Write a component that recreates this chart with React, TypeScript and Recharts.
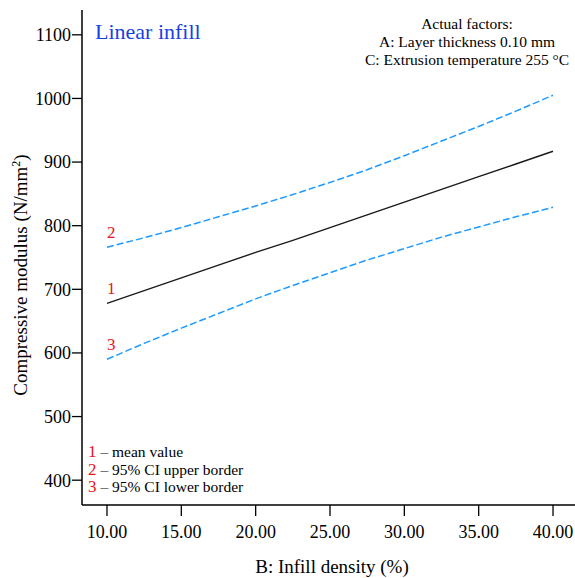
import React from "react";
import { LineChart, Line, XAxis, YAxis, LabelList } from "recharts";

const infillDensity = [10, 12.5, 15, 17.5, 20, 22.5, 25, 27.5, 30, 32.5, 35, 37.5, 40];
const meanValue = [678, 698, 718, 738, 758, 777, 797, 817, 837, 857, 877, 897, 917];
const upperCI = [766, 781, 797, 814, 831, 849, 868, 888, 910, 933, 956, 980, 1005];
const lowerCI = [590, 615, 639, 662, 685, 706, 726, 746, 764, 782, 798, 814, 829];
const xTicks = [10, 15, 20, 25, 30, 35, 40];
const yTicks = [400, 500, 600, 700, 800, 900, 1000, 1100];
const factorLines = ["Actual factors:", "A: Layer thickness 0.10 mm", "C: Extrusion temperature 255 °C"];
const legendItems = [
  { num: "1", text: "mean value" },
  { num: "2", text: "95% CI upper border" },
  { num: "3", text: "95% CI lower border" },
];

const data = infillDensity.map((x, i) => ({
  x,
  mean: meanValue[i],
  upper: upperCI[i],
  lower: lowerCI[i],
}));

const FONT = "'Liberation Serif', 'Times New Roman', serif";
const BLUE = "#1E9BFF";
const RED = "#E8141B";

const makeLabel = (num: string) => (props: any) => {
  const { x, y, index } = props;
  if (index !== 0) return null;
  return (
    <text x={x} y={y - 9} fill={RED} fontSize={17} fontFamily={FONT}>
      {num}
    </text>
  );
};

const fmtX = (v: number) => v.toFixed(2);

export default function App() {
  return (
    <div
      style={{
        position: "absolute",
        left: 0,
        top: 0,
        width: 575,
        height: 578,
        overflow: "hidden",
        background: "#fff",
      }}
    >
      <LineChart
        width={600}
        height={578}
        data={data}
        margin={{ top: 10, right: 22, bottom: 0, left: 0 }}
      >
        <XAxis
          xAxisId="top"
          orientation="top"
          dataKey="x"
          type="number"
          domain={[8.32, 41.68]}
          height={0}
          tick={false}
          tickLine={false}
          axisLine={{ stroke: "#707070", strokeWidth: 2 }}
        />
        <XAxis
          dataKey="x"
          type="number"
          domain={[8.32, 41.68]}
          ticks={xTicks}
          tickFormatter={fmtX}
          height={73}
          tickSize={11}
          tickMargin={9}
          axisLine={{ stroke: "#000", strokeWidth: 1.5 }}
          tickLine={{ stroke: "#000", strokeWidth: 1.3 }}
          tick={{ fill: "#000", fontSize: 18, fontFamily: FONT }}
          allowDataOverflow
        />
        <YAxis
          type="number"
          domain={[361, 1139]}
          ticks={yTicks}
          width={82}
          tickSize={10}
          tickMargin={1}
          axisLine={{ stroke: "#000", strokeWidth: 1.5 }}
          tickLine={{ stroke: "#000", strokeWidth: 1.3 }}
          tick={{ fill: "#000", fontSize: 18, fontFamily: FONT }}
          allowDataOverflow
        />
        <Line
          xAxisId={0}
          dataKey="upper"
          stroke={BLUE}
          strokeWidth={1.5}
          strokeDasharray="7 3"
          dot={false}
          isAnimationActive={false}
        >
          <LabelList dataKey="upper" content={makeLabel("2")} />
        </Line>
        <Line
          xAxisId={0}
          dataKey="mean"
          stroke="#1a1a1a"
          strokeWidth={1.4}
          dot={false}
          isAnimationActive={false}
        >
          <LabelList dataKey="mean" content={makeLabel("1")} />
        </Line>
        <Line
          xAxisId={0}
          dataKey="lower"
          stroke={BLUE}
          strokeWidth={1.5}
          strokeDasharray="7 3"
          dot={false}
          isAnimationActive={false}
        >
          <LabelList dataKey="lower" content={makeLabel("3")} />
        </Line>
      </LineChart>
      <svg
        width={575}
        height={578}
        style={{ position: "absolute", left: 0, top: 0, pointerEvents: "none" }}
      >
        <text x={95} y={39} fill="#1a3fe0" fontSize={22} fontFamily={FONT}>
          Linear infill
        </text>
        {factorLines.map((t, i) => (
          <text
            key={t}
            x={467}
            y={29 + i * 18}
            textAnchor="middle"
            fill="#000"
            fontSize={15.5}
            fontFamily={FONT}
          >
            {t}
          </text>
        ))}
        {legendItems.map((it, i) => (
          <text key={it.num} x={88} y={457 + i * 17.5} fontSize={15.5} fontFamily={FONT} fill="#000">
            <tspan fill={RED} fontSize={17}>{it.num}</tspan>
            <tspan> – {it.text}</tspan>
          </text>
        ))}
        <text x={332} y={573} textAnchor="middle" fontSize={19} fontFamily={FONT} fill="#000">
          B: Infill density (%)
        </text>
        <text
          transform="translate(27,275) rotate(-90)"
          textAnchor="middle"
          fontSize={19}
          fontFamily={FONT}
          fill="#000"
        >
          Compressive modulus (N/mm<tspan dy={-7} fontSize={12}>2</tspan><tspan dy={7}>)</tspan>
        </text>
      </svg>
    </div>
  );
}
